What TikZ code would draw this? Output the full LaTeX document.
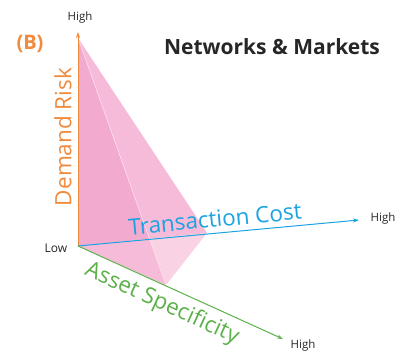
\documentclass[tikz,border=0pt]{standalone}
\usepackage{fontspec}
\setmainfont{Open Sans}
\usetikzlibrary{arrows.meta}
\definecolor{riskorange}{HTML}{F08A3C}
\definecolor{costblue}{HTML}{1AA3E0}
\definecolor{assetgreen}{HTML}{5CB04A}
\definecolor{pinkdark}{HTML}{F2AACF}
\definecolor{pinkmid}{HTML}{F6BBD8}
\definecolor{pinklight}{HTML}{F9D2E4}
\begin{document}
\begin{tikzpicture}[x=1pt,y=-1pt]

% Define styles
\tikzstyle{axis} = [line width=1pt,-{Stealth[length=6pt,width=4pt]}]
\tikzstyle{tick} = [font=\fontsize{11.5}{13}\selectfont,text=black!85]
\tikzstyle{axislabel} = [font=\fontsize{22.5}{26}\selectfont]

\useasboundingbox (0,0) rectangle (402,352);

% Define points
\coordinate (origin) at (78,246);
\coordinate (apex) at (78,38);
\coordinate (costpt) at (207,233);
\coordinate (assetpt) at (166,285);
\coordinate (cross) at (149.5,238.8);
\coordinate (riskend) at (78,32);
\coordinate (costend) at (359,220);
\coordinate (assetend) at (283,339);

% Pyramid faces
\fill [pinkdark] (origin) -- (apex) -- (cross) -- cycle;
\fill [pinkmid] (apex) -- (costpt) -- (cross) -- cycle;
\fill [pinkmid] (origin) -- (cross) -- (assetpt) -- cycle;
\fill [pinklight] (cross) -- (costpt) -- (assetpt) -- cycle;
\draw [white!60!pinkmid,line width=0.5pt] (apex) -- (assetpt);

% Draw axes
\draw [axis,riskorange] (origin) -- (riskend);
\draw [axis,costblue] (origin) -- (costend);
\draw [axis,assetgreen] (origin) -- (assetend);

% Define labels
\node (tag) at (30,44) [font=\fontsize{20}{24}\selectfont\bfseries,text=riskorange] {(B)};
\node (title) at (272,47) [font=\fontsize{21}{24}\selectfont\bfseries,text=black!85] {Networks \& Markets};
\node (risk) at (63,137) [axislabel,text=riskorange,rotate=90] {Demand Risk};
\node (cost) at (215,219) [axislabel,text=costblue,rotate=5.3] {Transaction Cost};
\node (asset) at (162,304) [axislabel,text=assetgreen,rotate=-24.5] {Asset Specificity};
\node (riskhigh) at (80,18) [tick] {High};
\node (costhigh) at (383,219) [tick] {High};
\node (assethigh) at (303,346) [tick] {High};
\node (low) at (56,248) [tick,font=\fontsize{12}{14}\selectfont] {Low};

\end{tikzpicture}
\end{document}
